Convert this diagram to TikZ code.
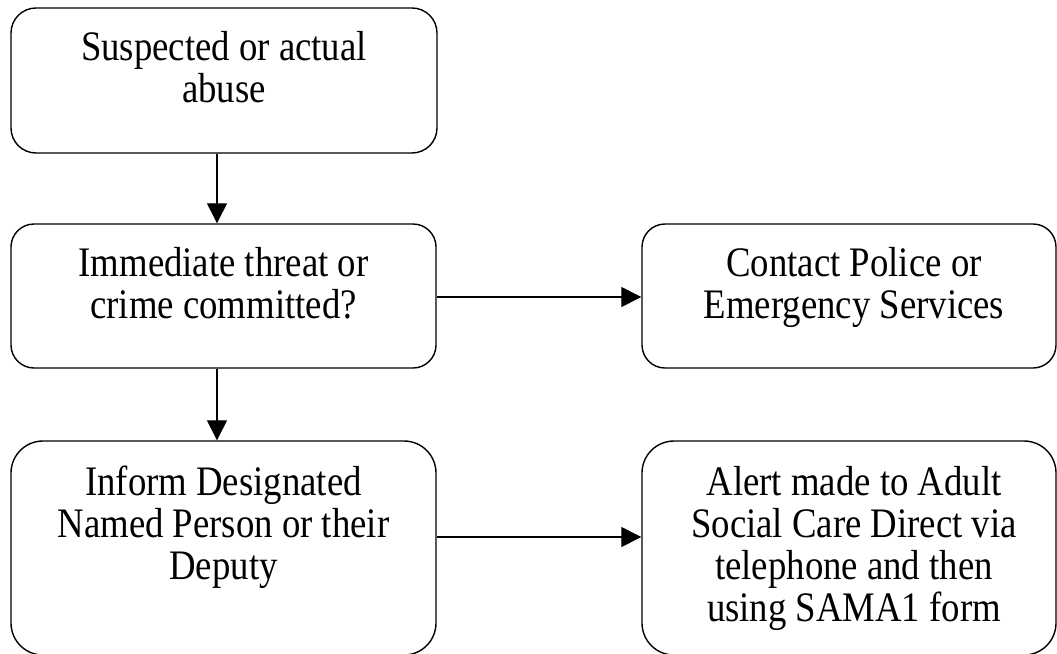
\documentclass[tikz,border=0pt]{standalone}
\usepackage{fontspec}
\setmainfont[FakeStretch=0.875]{Liberation Serif}
\usetikzlibrary{arrows.meta}
\begin{document}
\begin{tikzpicture}[x=1pt,y=-1pt,
  box/.style={draw=black,line width=1.4pt,inner sep=0pt,rectangle},
  boxtext/.style={anchor=base,inner sep=0pt,align=center,font={\fontsize{42}{42.2}\selectfont}},
  arr/.style={draw=black,line width=1.3pt,-{Triangle[length=20pt,width=20pt]}}]
\useasboundingbox (0,0) rectangle (1057,653);
% boxes
\node[box,rounded corners=25pt,minimum width=426pt,minimum height=145pt] (b1) at (224,80.5) {};
\node[box,rounded corners=23pt,minimum width=425pt,minimum height=144pt] (b2) at (223.5,296) {};
\node[box,rounded corners=23pt,minimum width=414pt,minimum height=144pt] (b3) at (849,296) {};
\node[box,rounded corners=32pt,minimum width=425pt,minimum height=214pt] (b4) at (223.5,548) {};
\node[box,rounded corners=32pt,minimum width=414pt,minimum height=214pt] (b5) at (849,548) {};
% texts (anchor = baseline of last line)
\node[boxtext] (t1) at (224,102.7) {Suspected or actual\\abuse};
\node[boxtext] (t2) at (223.5,318.2) {Immediate threat or\\crime committed?};
\node[boxtext] (t3) at (854,318.2) {Contact Police or\\Emergency Services};
\node[boxtext] (t4) at (223.5,579.4) {Inform Designated\\Named Person or their\\Deputy};
\node[boxtext] (t5) at (854,621.6) {Alert made to Adult\\Social Care Direct via\\telephone and then\\using SAMA1 form};
% connectors
\draw[arr] ([xshift=-7pt]b1.south) -- ([xshift=-7pt]b1.south |- b2.north);
\draw[arr] ([xshift=-6.5pt]b2.south) -- ([xshift=-6.5pt]b2.south |- b4.north);
\draw[arr] ([yshift=-1pt]b2.east) -- ([yshift=-1pt]b2.east -| b3.west);
\draw[arr] ([yshift=11pt]b4.east) -- ([yshift=11pt]b4.east -| b5.west);
\end{tikzpicture}
\end{document}
